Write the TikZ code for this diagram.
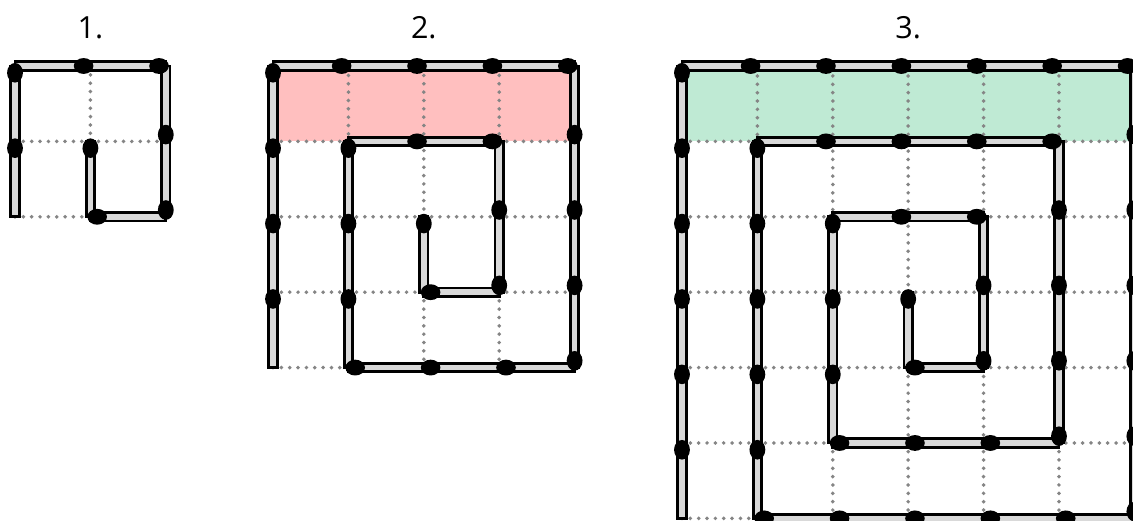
\documentclass[tikz,border=0pt]{standalone}
\usepackage{fontspec}
\setmainfont{Open Sans}
\usepackage{tikz}
\definecolor{stickgray}{HTML}{D9D9D9}
\definecolor{dotgray}{HTML}{858585}
\definecolor{rowpink}{HTML}{FFBFBF}
\definecolor{rowgreen}{HTML}{BFEAD4}
\tikzset{
  stick/.style={fill=stickgray,draw=black,line width=1.1pt},
  gridline/.style={dotgray,line width=1.5pt,line cap=round,dash pattern=on 0pt off 3.15pt},
  numlabel/.style={font=\fontsize{11.5}{13}\selectfont}
}
\begin{document}
\begin{tikzpicture}
\newcommand{\sticks}[1]{%
  \foreach \x/\y/\a/\n in {#1}{\begin{scope}[shift={(\x,\y)},rotate=\a]
    \foreach \k in {1,...,\n}{\filldraw[stick] (\k-1,-0.056) rectangle (\k,0.056);}\end{scope}}
  \foreach \x/\y/\a/\n in {#1}{\begin{scope}[shift={(\x,\y)},rotate=\a]
    \foreach \k in {1,...,\n}{\fill (\k-0.09,0) ellipse (0.13 and 0.105);}\end{scope}}}
\useasboundingbox (-0.199,-6.034) rectangle (14.828,0.875);
\clip (-0.199,-6.034) rectangle (14.828,0.875);
\begin{scope}
\draw[gridline] (0,0) grid (2,-2);
\sticks{0/-2/90/2, 0/0/0/2, 2/0/270/2, 2/-2/180/1, 1/-2/90/1}
\node[numlabel] (lab1) at (1,0.51) {1.};
\end{scope}
\begin{scope}[xshift=3.422cm]
\fill[rowpink] (0,0) rectangle (4,-1);
\draw[gridline] (0,0) grid (4,-4);
\sticks{0/-4/90/4, 0/0/0/4, 4/0/270/4, 4/-4/180/3, 1/-4/90/3, 1/-1/0/2, 3/-1/270/2, 3/-3/180/1, 2/-3/90/1}
\node[numlabel] (lab2) at (2,0.51) {2.};
\end{scope}
\begin{scope}[xshift=8.846cm]
\fill[rowgreen] (0,0) rectangle (6,-1);
\draw[gridline] (0,0) grid (6,-6);
\sticks{0/-6/90/6, 0/0/0/6, 6/0/270/6, 6/-6/180/5, 1/-6/90/5, 1/-1/0/4, 5/-1/270/4, 5/-5/180/3, 2/-5/90/3, 2/-2/0/2, 4/-2/270/2, 4/-4/180/1, 3/-4/90/1}
\node[numlabel] (lab3) at (3,0.51) {3.};
\end{scope}
\end{tikzpicture}
\end{document}
